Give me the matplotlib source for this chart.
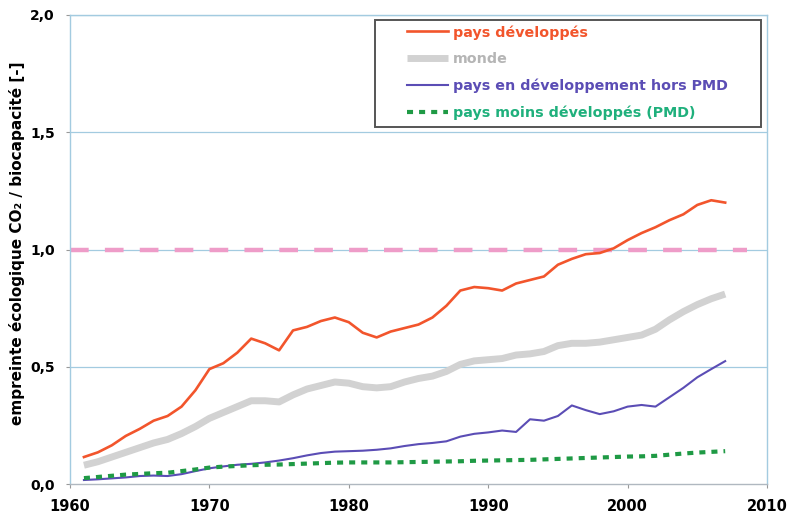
import matplotlib.pyplot as plt
from matplotlib.patches import Rectangle

# annual series 1961-2007, CO2 footprint over biocapacity
years = list(range(1961, 2008))
developpes = [0.115, 0.135, 0.165, 0.205, 0.235, 0.27, 0.29, 0.33, 0.40, 0.49,
              0.515, 0.56, 0.62, 0.60, 0.57, 0.655, 0.67, 0.695, 0.71, 0.69,
              0.645, 0.625, 0.65, 0.665, 0.68, 0.71, 0.76, 0.825, 0.84, 0.835,
              0.825, 0.855, 0.87, 0.885, 0.935, 0.96, 0.98, 0.985, 1.005, 1.04,
              1.07, 1.095, 1.125, 1.15, 1.19, 1.21, 1.20]
monde = [0.08, 0.095, 0.115, 0.135, 0.155, 0.175, 0.19, 0.215, 0.245, 0.28,
         0.305, 0.33, 0.355, 0.355, 0.35, 0.38, 0.405, 0.42, 0.435, 0.43,
         0.415, 0.41, 0.415, 0.435, 0.45, 0.46, 0.48, 0.51, 0.525, 0.53,
         0.535, 0.55, 0.555, 0.565, 0.59, 0.60, 0.60, 0.605, 0.615, 0.625,
         0.635, 0.66, 0.70, 0.735, 0.765, 0.79, 0.81]
en_dev = [0.017, 0.02, 0.024, 0.028, 0.034, 0.036, 0.034, 0.042, 0.055, 0.067,
          0.075, 0.082, 0.086, 0.092, 0.10, 0.11, 0.122, 0.132, 0.138, 0.14,
          0.142, 0.146, 0.152, 0.162, 0.17, 0.175, 0.182, 0.202, 0.214, 0.22,
          0.228, 0.222, 0.276, 0.27, 0.29, 0.335, 0.315, 0.298, 0.31, 0.33,
          0.337, 0.33, 0.37, 0.41, 0.455, 0.49, 0.524]
pmd = [0.025, 0.03, 0.035, 0.04, 0.043, 0.046, 0.048, 0.055, 0.062, 0.07,
       0.074, 0.077, 0.08, 0.082, 0.083, 0.085, 0.087, 0.089, 0.091, 0.092,
       0.092, 0.092, 0.092, 0.093, 0.094, 0.095, 0.096, 0.097, 0.099, 0.10,
       0.101, 0.102, 0.103, 0.105, 0.107, 0.109, 0.111, 0.113, 0.115, 0.117,
       0.118, 0.12, 0.125, 0.13, 0.134, 0.137, 0.14]
seuil_x = [1960, 2008.6]
seuil_y = [1.0, 1.0]

labels = ['pays développés', 'monde', 'pays en développement hors PMD',
          'pays moins développés (PMD)']
xticks = [1960, 1970, 1980, 1990, 2000, 2010]
yticks = [0.0, 0.5, 1.0, 1.5, 2.0]
ytick_labels = ['0,0', '0,5', '1,0', '1,5', '2,0']

c_dev = '#f2552c'
c_monde = '#d2d2d2'
c_endev = '#5b4db5'
c_pmd = '#1f9a45'
c_pmd_txt = '#1fb07c'
c_grid = '#a3cbe0'

fig = plt.figure(figsize=(7.9, 5.17), dpi=100)
ax = fig.add_axes([70/790, 33/517, 697/790, 469/517])

for y in yticks[1:]:
    ax.axhline(y, color=c_grid, lw=0.9, zorder=1)
ax.plot(seuil_x, seuil_y, color='#ee9cc8', lw=3.2, dashes=(4.2, 3.65), zorder=2)

l1, = ax.plot(years, developpes, color=c_dev, lw=1.9, zorder=5)
l2, = ax.plot(years, monde, color=c_monde, lw=5, solid_capstyle='butt', zorder=3)
l3, = ax.plot(years, en_dev, color=c_endev, lw=1.5, zorder=4)
l4, = ax.plot(years, pmd, color=c_pmd, lw=3, dashes=(1.45, 1.45), zorder=4)

ax.set_xlim(1960, 2010)
ax.set_ylim(0, 2.0)
ax.set_xticks(xticks)
ax.set_xticklabels([str(x) for x in xticks], fontsize=10.5, fontweight='bold')
ax.set_yticks(yticks)
ax.set_yticklabels(ytick_labels, fontsize=10, fontweight='bold')
ax.tick_params(axis='both', direction='out', length=3, color='#999999', pad=8)
for s in ax.spines.values():
    s.set_color(c_grid)
    s.set_linewidth(1.0)
ax.spines['bottom'].set_color('#b0b8c0')

ax.set_ylabel('empreinte écologique CO₂ / biocapacité [-]', fontsize=11,
              fontweight='bold')
ax.yaxis.set_label_coords(-45/697, 0.514)

# legend box drawn separately so its padding can be set freely
ax.add_patch(Rectangle(((375-70)/697, (484-127)/469), (761-375)/697, 107/469,
                       transform=ax.transAxes, fill=True, facecolor='white',
                       edgecolor='#555555', lw=1.4, zorder=6))
ax.legend([l1, l2, l3, l4], labels, loc='upper left',
          bbox_to_anchor=((407-70)/697, (484-25)/469), borderpad=0,
          borderaxespad=0, frameon=False, handlelength=2.85, handletextpad=0.38,
          labelspacing=0.88, prop={'weight': 'bold', 'size': 10.3},
          labelcolor=[c_dev, '#b5b5b5', c_endev, c_pmd_txt]).set_zorder(7)

fig.savefig('out.png', dpi=100)
